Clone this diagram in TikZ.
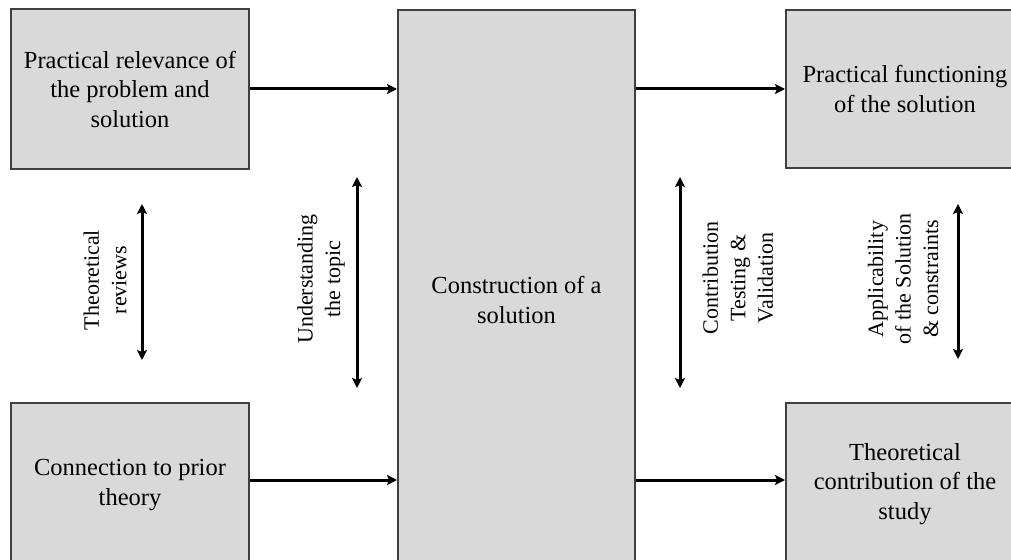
\documentclass[tikz,border=0pt]{standalone}
\usepackage{fontspec}
\setmainfont{Liberation Serif}
\usetikzlibrary{arrows.meta}

\definecolor{boxfill}{HTML}{D9D9D9}
\definecolor{boxline}{HTML}{404040}

\tikzset{
  box/.style={draw=boxline, line width=2pt, fill=boxfill, align=center,
    font=\fontsize{24.5}{29.5}\selectfont, inner sep=0pt},
  link/.style={-{Stealth[length=10pt,width=10pt,inset=2pt]}, line width=3pt},
  twoway/.style={{Stealth[length=10pt,width=10pt,inset=2pt]}-{Stealth[length=10pt,width=10pt,inset=2pt]}, line width=3pt},
  vlabel/.style={rotate=90, align=center, font=\fontsize{22}{27.5}\selectfont, inner sep=0pt}
}

\begin{document}
\begin{tikzpicture}[x=1pt,y=1pt]
  \useasboundingbox (0,0) rectangle (1011,-559);

  % main boxes
  \node[box, minimum width=238pt, minimum height=159pt] (A) at (130,-89)
    {Practical relevance of\\the problem and\\solution};
  \node[box, minimum width=238pt, minimum height=164pt] (B) at (130,-485)
    {Connection to prior\\theory};
  \node[box, minimum width=237pt, minimum height=580pt] (C) at (516.5,-300)
    {Construction of a\\solution};
  \node[box, minimum width=238pt, minimum height=158pt] (D) at (905,-89)
    {Practical functioning\\of the solution};
  \node[box, minimum width=238pt, minimum height=162pt] (E) at (905,-484)
    {Theoretical\\contribution of the\\study};

  % attachment points of the lower flows
  \coordinate (bOut) at ([yshift=5pt]B.east);
  \coordinate (eIn) at ([yshift=4pt]E.west);

  % horizontal flows
  \draw[link] (A.east) -- (A.east -| C.west);
  \draw[link] (bOut) -- (bOut -| C.west);
  \draw[link] (C.east |- D.west) -- (D.west);
  \draw[link] (C.east |- eIn) -- (eIn);

  % vertical two-way links
  \coordinate (v1t) at (142,-204);
  \coordinate (v1b) at (142,-360);
  \coordinate (v2t) at (357,-177);
  \coordinate (v2b) at (357,-388);
  \coordinate (v3t) at (680,-177);
  \coordinate (v3b) at (680,-388);
  \coordinate (v4t) at (958,-204);
  \coordinate (v4b) at (958,-359);
  \draw[twoway] (v1t) -- (v1b);
  \draw[twoway] (v2t) -- (v2b);
  \draw[twoway] (v3t) -- (v3b);
  \draw[twoway] (v4t) -- (v4b);

  % labels of the vertical links
  \node[vlabel] (L1) at (105,-280) {Theoretical\\reviews};
  \node[vlabel] (L2) at (321,-279) {Understanding\\the topic};
  \node[vlabel] (L3) at (738,-278) {Contribution\\Testing \&\\Validation};
  \node[vlabel] (L4) at (903,-279) {Applicability\\of the Solution\\\& constraints};
\end{tikzpicture}
\end{document}
